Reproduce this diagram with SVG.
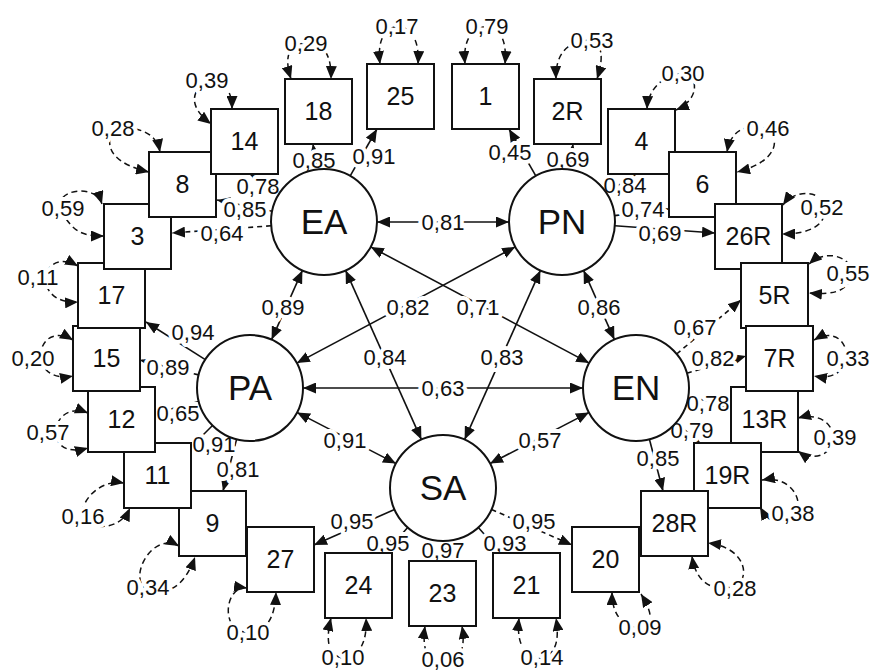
<svg xmlns="http://www.w3.org/2000/svg" width="875" height="672" viewBox="0 0 875 672">
<defs>
<marker id="ah" viewBox="0 0 13 11" refX="13" refY="5.5" markerWidth="13" markerHeight="11" markerUnits="userSpaceOnUse" orient="auto-start-reverse"><path d="M0,0 L13,5.5 L0,11 Z" fill="#111"/></marker>
<style>
.ln{fill:none;stroke:#111;stroke-width:1.6}
.dl{fill:none;stroke:#111;stroke-width:1.6;stroke-dasharray:5 4}
.er{fill:none;stroke:#111;stroke-width:1.5;stroke-dasharray:6 4}
.b{fill:#fff;stroke:#111;stroke-width:2}
.c{fill:#fff;stroke:#111;stroke-width:2}
text{font-family:"Liberation Sans",Arial,sans-serif;fill:#111;text-anchor:middle}
.l{font-size:22px;stroke:#fff;stroke-width:8px;paint-order:stroke;stroke-linejoin:round}
.bt{font-size:25px}
.ct{font-size:35px}
</style>
</defs>
<g id="connectors">
<g marker-start="url(#ah)" marker-end="url(#ah)" class="ln">
<path d="M377,222 L509,222"/>
<path d="M302.4,270.4 L271.6,339.6"/>
<path d="M583.6,270.4 L614.4,339.6"/>
<path d="M370.8,246.9 L589.2,363.1"/>
<path d="M515.2,246.9 L296.8,363.1"/>
<path d="M345.6,270.4 L421.4,439.6"/>
<path d="M540.4,270.4 L464.6,439.6"/>
<path d="M303,388 L583,388"/>
<path d="M297,412.4 L396,463.6"/>
<path d="M589,412.4 L490,463.6"/>
</g>
<g marker-end="url(#ah)">
<path class="ln" d="M316.6,169.5 L313,144"/>
<path class="ln" d="M350.2,175.9 L377,129"/>
<path class="ln" d="M279.5,193.2 L250,174"/>
<path class="ln" d="M272.1,211.3 L217,200"/>
<path class="dl" d="M271.1,225.8 L172,233"/>
<path class="ln" d="M535.8,175.9 L509,129"/>
<path class="ln" d="M569.4,169.5 L573,144"/>
<path class="ln" d="M606.5,193.2 L636,174"/>
<path class="ln" d="M614.6,215.6 L669,209"/>
<path class="ln" d="M614.9,225.8 L715,233"/>
<path class="ln" d="M205.3,359.6 L146,322"/>
<path class="dl" d="M198.6,374.9 L140,360"/>
<path class="ln" d="M198.8,401.6 L156,413"/>
<path class="ln" d="M212.5,425.5 L192,446"/>
<path class="ln" d="M236.6,439.3 L223,491"/>
<path class="dl" d="M676.6,354 L741,300"/>
<path class="dl" d="M686.9,373.2 L746,356"/>
<path class="ln" d="M688.2,397.3 L731,405"/>
<path class="ln" d="M676.2,422.5 L700,443"/>
<path class="ln" d="M649.4,439.3 L663,491"/>
<path class="ln" d="M394.5,509.4 L314,545"/>
<path class="ln" d="M407.7,527.5 L385,553"/>
<path class="ln" d="M443,541 L443,561"/>
<path class="ln" d="M478.3,527.5 L501,553"/>
<path class="dl" d="M491.5,509.4 L572,545"/>
</g>
<g class="er" marker-start="url(#ah)" marker-end="url(#ah)">
<path d="M380,64 Q376,30 398,26 Q420,30 418,64"/>
<path d="M465,64 Q462,30 487,26 Q508,30 505,64"/>
<path d="M291,79 Q280,45 306,43 Q332,42 331,79"/>
<path d="M556,79 Q555,42 590,40 Q608,45 597,79"/>
<path d="M232,109 Q232,80 207,80 Q180,100 211,124"/>
<path d="M160,152 Q155,125 113,128 Q98,160 149,172"/>
<path d="M102,204 C95,182 50,190 62,212 S85,236 104,236"/>
<path d="M647,109 C648,88 665,75 680,74 C700,73 700,100 676,110"/>
<path d="M727,152 C730,135 740,125 760,127 C780,130 785,160 737,172"/>
<path d="M783,205 C795,188 825,190 825,210 C825,225 810,234 782,234"/>
<path d="M809,264 C830,245 860,262 850,280 C845,292 830,295 809,293"/>
<path d="M814,340 C852,318 862,385 814,376"/>
<path d="M78,266 C40,245 30,305 78,302"/>
<path d="M73,340 C35,318 25,385 73,376"/>
<path d="M88,413 C50,398 40,462 88,448"/>
<path d="M798,418 C820,412 835,425 833,440 C830,458 810,460 798,451"/>
<path d="M124,483 C95,478 75,510 85,520 C95,530 120,530 130,508"/>
<path d="M762,480 C790,475 805,500 795,515 C785,530 770,525 760,507"/>
<path d="M179,546 C150,530 125,585 150,590 C170,595 185,585 195,557"/>
<path d="M692,556 C696,585 715,592 735,586 C750,580 748,548 708,543"/>
<path d="M247,588 C225,585 220,630 245,632 C265,634 275,620 276,592"/>
<path d="M612,592 Q612,625 640,628 Q660,625 641,594"/>
<path d="M331,618 Q322,655 343,658 Q368,655 366,618"/>
<path d="M425,626 Q420,662 443,664 Q468,662 462,626"/>
<path d="M519,618 Q515,655 540,658 Q562,655 556,618"/>
</g>
<g class="l">
<text x="443" y="222" dy=".35em">0,81</text>
<text x="283" y="307" dy=".35em">0,89</text>
<text x="599" y="307" dy=".35em">0,86</text>
<text x="478" y="307" dy=".35em">0,71</text>
<text x="408" y="307" dy=".35em">0,82</text>
<text x="385" y="357" dy=".35em">0,84</text>
<text x="502" y="357" dy=".35em">0,83</text>
<text x="443" y="388" dy=".35em">0,63</text>
<text x="345" y="440" dy=".35em">0,91</text>
<text x="540" y="440" dy=".35em">0,57</text>
<text x="314" y="160" dy=".35em">0,85</text>
<text x="374" y="156" dy=".35em">0,91</text>
<text x="258" y="186" dy=".35em">0,78</text>
<text x="245" y="209" dy=".35em">0,85</text>
<text x="222" y="233" dy=".35em">0,64</text>
<text x="510" y="152" dy=".35em">0,45</text>
<text x="568" y="159" dy=".35em">0,69</text>
<text x="625" y="185" dy=".35em">0,84</text>
<text x="643" y="209" dy=".35em">0,74</text>
<text x="660" y="233" dy=".35em">0,69</text>
<text x="193" y="332" dy=".35em">0,94</text>
<text x="168" y="367" dy=".35em">0,89</text>
<text x="178" y="413" dy=".35em">0,65</text>
<text x="214" y="444" dy=".35em">0,91</text>
<text x="238" y="469" dy=".35em">0,81</text>
<text x="695" y="327" dy=".35em">0,67</text>
<text x="713" y="358" dy=".35em">0,82</text>
<text x="708" y="403" dy=".35em">0,78</text>
<text x="692" y="430" dy=".35em">0,79</text>
<text x="658" y="458" dy=".35em">0,85</text>
<text x="352" y="521" dy=".35em">0,95</text>
<text x="388" y="543" dy=".35em">0,95</text>
<text x="443" y="550" dy=".35em">0,97</text>
<text x="505" y="543" dy=".35em">0,93</text>
<text x="534" y="521" dy=".35em">0,95</text>
<text x="397" y="26" dy=".35em">0,17</text>
<text x="487" y="26" dy=".35em">0,79</text>
<text x="306" y="43" dy=".35em">0,29</text>
<text x="592" y="40" dy=".35em">0,53</text>
<text x="207" y="80" dy=".35em">0,39</text>
<text x="683" y="73" dy=".35em">0,30</text>
<text x="113" y="128" dy=".35em">0,28</text>
<text x="768" y="128" dy=".35em">0,46</text>
<text x="63" y="208" dy=".35em">0,59</text>
<text x="822" y="207" dy=".35em">0,52</text>
<text x="38" y="277" dy=".35em">0,11</text>
<text x="848" y="273" dy=".35em">0,55</text>
<text x="33" y="358" dy=".35em">0,20</text>
<text x="848" y="358" dy=".35em">0,33</text>
<text x="48" y="432" dy=".35em">0,57</text>
<text x="835" y="437" dy=".35em">0,39</text>
<text x="83" y="516" dy=".35em">0,16</text>
<text x="793" y="513" dy=".35em">0,38</text>
<text x="148" y="587" dy=".35em">0,34</text>
<text x="735" y="588" dy=".35em">0,28</text>
<text x="248" y="632" dy=".35em">0,10</text>
<text x="640" y="627" dy=".35em">0,09</text>
<text x="343" y="657" dy=".35em">0,10</text>
<text x="443" y="659" dy=".35em">0,06</text>
<text x="542" y="657" dy=".35em">0,14</text>
</g>
</g>
<g id="n27"><rect class="b" x="247" y="527" width="67" height="65"/><text class="bt" x="280.5" y="559.5" dy=".35em">27</text></g>
<g id="n9"><rect class="b" x="179" y="491" width="67" height="65"/><text class="bt" x="212.5" y="523.5" dy=".35em">9</text></g>
<g id="n11"><rect class="b" x="124" y="443" width="67" height="65"/><text class="bt" x="157.5" y="475.5" dy=".35em">11</text></g>
<g id="n12"><rect class="b" x="88" y="387" width="67" height="65"/><text class="bt" x="121.5" y="419.5" dy=".35em">12</text></g>
<g id="n15"><rect class="b" x="73" y="326" width="67" height="65"/><text class="bt" x="106.5" y="358.5" dy=".35em">15</text></g>
<g id="n17"><rect class="b" x="78" y="263" width="67" height="65"/><text class="bt" x="111.5" y="295.5" dy=".35em">17</text></g>
<g id="n3"><rect class="b" x="104" y="204" width="67" height="65"/><text class="bt" x="137.5" y="236.5" dy=".35em">3</text></g>
<g id="n8"><rect class="b" x="149" y="152" width="67" height="65"/><text class="bt" x="182.5" y="184.5" dy=".35em">8</text></g>
<g id="n14"><rect class="b" x="211" y="109" width="67" height="65"/><text class="bt" x="244.5" y="141.5" dy=".35em">14</text></g>
<g id="n18"><rect class="b" x="285" y="79" width="67" height="65"/><text class="bt" x="318.5" y="111.5" dy=".35em">18</text></g>
<g id="n25"><rect class="b" x="367" y="64" width="67" height="65"/><text class="bt" x="400.5" y="96.5" dy=".35em">25</text></g>
<g id="n1"><rect class="b" x="452" y="64" width="67" height="65"/><text class="bt" x="485.5" y="96.5" dy=".35em">1</text></g>
<g id="n2R"><rect class="b" x="534" y="79" width="67" height="65"/><text class="bt" x="567.5" y="111.5" dy=".35em">2R</text></g>
<g id="n4"><rect class="b" x="608" y="109" width="67" height="65"/><text class="bt" x="641.5" y="141.5" dy=".35em">4</text></g>
<g id="n6"><rect class="b" x="669" y="152" width="67" height="65"/><text class="bt" x="702.5" y="184.5" dy=".35em">6</text></g>
<g id="n26R"><rect class="b" x="715" y="204" width="67" height="65"/><text class="bt" x="748.5" y="236.5" dy=".35em">26R</text></g>
<g id="n5R"><rect class="b" x="741" y="263" width="67" height="65"/><text class="bt" x="774.5" y="295.5" dy=".35em">5R</text></g>
<g id="n13R"><rect class="b" x="731" y="387" width="67" height="65"/><text class="bt" x="764.5" y="419.5" dy=".35em">13R</text></g>
<g id="n7R"><rect class="b" x="746" y="326" width="67" height="65"/><text class="bt" x="779.5" y="358.5" dy=".35em">7R</text></g>
<g id="n19R"><rect class="b" x="694" y="443" width="67" height="65"/><text class="bt" x="727.5" y="475.5" dy=".35em">19R</text></g>
<g id="n28R"><rect class="b" x="641" y="491" width="67" height="65"/><text class="bt" x="674.5" y="523.5" dy=".35em">28R</text></g>
<g id="n20"><rect class="b" x="572" y="527" width="67" height="65"/><text class="bt" x="605.5" y="559.5" dy=".35em">20</text></g>
<g id="n24"><rect class="b" x="325" y="553" width="67" height="65"/><text class="bt" x="358.5" y="585.5" dy=".35em">24</text></g>
<g id="n23"><rect class="b" x="409" y="561" width="67" height="65"/><text class="bt" x="442.5" y="593.5" dy=".35em">23</text></g>
<g id="n21"><rect class="b" x="493" y="553" width="67" height="65"/><text class="bt" x="526.5" y="585.5" dy=".35em">21</text></g>
<g id="EA"><circle class="c" cx="324" cy="222" r="53"/><text class="ct" x="324" y="222" dy=".35em">EA</text></g>
<g id="PN"><circle class="c" cx="562" cy="222" r="53"/><text class="ct" x="562" y="222" dy=".35em">PN</text></g>
<g id="PA"><circle class="c" cx="250" cy="388" r="53"/><text class="ct" x="250" y="388" dy=".35em">PA</text></g>
<g id="EN"><circle class="c" cx="636" cy="388" r="53"/><text class="ct" x="636" y="388" dy=".35em">EN</text></g>
<g id="SA"><circle class="c" cx="443" cy="488" r="53"/><text class="ct" x="443" y="488" dy=".35em">SA</text></g>
</svg>
